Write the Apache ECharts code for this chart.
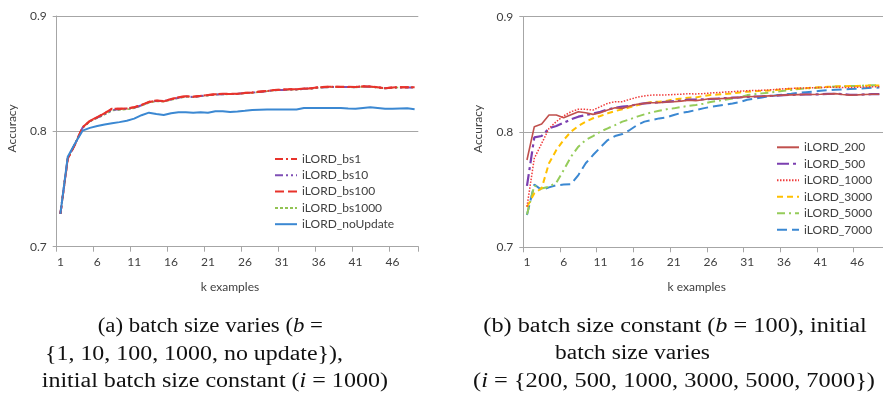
<!DOCTYPE html>
<html>
<head>
<meta charset="utf-8">
<script src="https://cdn.jsdelivr.net/npm/echarts@6/dist/echarts.min.js"></script>
<style>
html,body{margin:0;padding:0;background:#fff;}
#chart{width:883px;height:396px;}
</style>
</head>
<body>
<div id="chart"></div>
<script>
const categories = ['1','2','3','4','5','6','7','8','9','10','11','12','13','14','15','16','17','18','19','20','21','22','23','24','25','26','27','28','29','30','31','32','33','34','35','36','37','38','39','40','41','42','43','44','45','46','47','48','49'];
const yTicks = [0.7, 0.8, 0.9];

// Panel (a)
const bs1 = [0.7284,0.7766,0.789,0.8035,0.809,0.8122,0.8157,0.8195,0.8195,0.8198,0.8208,0.8228,0.8254,0.8266,0.826,0.8278,0.8295,0.8304,0.830,0.8307,0.8315,0.8321,0.8324,0.8324,0.8324,0.8333,0.8336,0.8344,0.835,0.8358,0.836,0.8364,0.8364,0.837,0.8373,0.8382,0.8385,0.8387,0.8385,0.8385,0.8384,0.839,0.8388,0.8382,0.8373,0.838,0.8382,0.8382,0.8382];
const bs10 = [0.7284,0.7768,0.7892,0.8032,0.8088,0.812,0.815,0.8185,0.8192,0.8196,0.8205,0.8226,0.8252,0.8264,0.8262,0.8276,0.8292,0.8302,0.8298,0.8306,0.8313,0.832,0.8322,0.8324,0.8325,0.8332,0.8335,0.8342,0.8349,0.8356,0.8359,0.8362,0.8363,0.8369,0.8372,0.838,0.8383,0.8385,0.8384,0.8384,0.8383,0.8388,0.8387,0.8381,0.8374,0.8379,0.8381,0.8381,0.8381];
const bs100 = [0.7284,0.7762,0.7888,0.8036,0.8092,0.8124,0.8158,0.8197,0.8196,0.8199,0.821,0.823,0.8256,0.8268,0.8262,0.828,0.8296,0.8305,0.8301,0.8308,0.8316,0.8322,0.8325,0.8325,0.8325,0.8334,0.8337,0.8345,0.8351,0.8358,0.8361,0.8365,0.8365,0.8371,0.8374,0.8383,0.8386,0.8388,0.8386,0.8386,0.8385,0.8391,0.8389,0.8383,0.8374,0.8381,0.8383,0.8383,0.8383];
const bs1000 = [0.7284,0.777,0.7895,0.803,0.8085,0.8115,0.8145,0.818,0.8185,0.819,0.82,0.8222,0.8248,0.826,0.8258,0.8272,0.8288,0.8298,0.8296,0.8304,0.831,0.8318,0.832,0.8322,0.8322,0.833,0.8333,0.834,0.8347,0.8355,0.8357,0.836,0.8361,0.8367,0.837,0.8378,0.8381,0.8383,0.8382,0.8382,0.8381,0.8386,0.8385,0.838,0.8372,0.8378,0.838,0.838,0.838];
const noUpdate = [0.7284,0.778,0.7896,0.8006,0.803,0.8046,0.806,0.807,0.808,0.8092,0.811,0.814,0.8162,0.815,0.8142,0.8157,0.8165,0.8165,0.8162,0.8165,0.8162,0.8174,0.8175,0.8168,0.8172,0.8178,0.8185,0.8188,0.819,0.819,0.819,0.819,0.819,0.8202,0.8202,0.8202,0.8202,0.8202,0.8202,0.8198,0.8196,0.8202,0.8208,0.8202,0.8196,0.8196,0.8198,0.82,0.8192];

// Panel (b)
const i200 = [0.7757,0.8046,0.807,0.8148,0.8148,0.8124,0.815,0.8176,0.8167,0.8153,0.8167,0.819,0.821,0.8205,0.8225,0.824,0.8248,0.8254,0.8254,0.826,0.8263,0.8268,0.8275,0.8272,0.828,0.829,0.8288,0.8292,0.8297,0.830,0.8306,0.8308,0.831,0.8313,0.8316,0.832,0.8322,0.8324,0.8325,0.8325,0.8327,0.833,0.8333,0.8325,0.832,0.8322,0.8325,0.8327,0.8327];
const i500 = [0.7532,0.7954,0.7965,0.8032,0.8052,0.808,0.811,0.8133,0.8147,0.816,0.8175,0.8195,0.821,0.822,0.8225,0.824,0.8248,0.8254,0.8256,0.8262,0.8268,0.8272,0.828,0.8282,0.8284,0.8286,0.829,0.8294,0.8298,0.830,0.8304,0.8307,0.831,0.8313,0.8316,0.832,0.8322,0.8324,0.8326,0.8327,0.8327,0.833,0.8332,0.8328,0.8322,0.8323,0.8326,0.8328,0.8328];
const i1000 = [0.7352,0.7772,0.790,0.8032,0.809,0.8139,0.8176,0.8197,0.8197,0.819,0.822,0.8249,0.8263,0.8263,0.8283,0.8301,0.8313,0.832,0.832,0.8322,0.8325,0.8328,0.8332,0.833,0.8333,0.8338,0.8342,0.8346,0.835,0.8354,0.8358,0.836,0.8362,0.8365,0.837,0.8375,0.8378,0.838,0.8382,0.8384,0.8386,0.8388,0.8388,0.8386,0.8386,0.8388,0.839,0.8392,0.8393];
const i3000 = [0.735,0.7468,0.7512,0.7729,0.7844,0.7931,0.8003,0.8052,0.8089,0.8119,0.8139,0.8162,0.8182,0.8197,0.8214,0.8232,0.8249,0.826,0.8263,0.827,0.8283,0.829,0.8298,0.830,0.8312,0.832,0.8325,0.833,0.8336,0.8343,0.835,0.8354,0.8357,0.836,0.8365,0.837,0.8375,0.8378,0.838,0.8384,0.8388,0.8392,0.8395,0.8396,0.8398,0.8399,0.8402,0.8404,0.8404];
const i5000 = [0.7285,0.7535,0.751,0.7525,0.756,0.767,0.7786,0.7873,0.793,0.7965,0.8003,0.8032,0.806,0.809,0.811,0.8133,0.8153,0.817,0.8185,0.8197,0.8205,0.8217,0.8226,0.8235,0.8245,0.826,0.827,0.828,0.829,0.8302,0.832,0.8328,0.8335,0.8342,0.835,0.8358,0.8365,0.8372,0.8378,0.8382,0.8386,0.839,0.8394,0.8396,0.8398,0.84,0.8403,0.8405,0.8405];
const i7000 = [0.728,0.7545,0.7497,0.752,0.7538,0.7544,0.7547,0.7627,0.7729,0.780,0.7867,0.793,0.7965,0.7982,0.8017,0.806,0.809,0.8104,0.8118,0.8127,0.8147,0.8165,0.8176,0.819,0.8205,0.8218,0.8228,0.8238,0.8248,0.826,0.828,0.829,0.830,0.831,0.8318,0.8325,0.8332,0.834,0.8345,0.835,0.8358,0.8362,0.8366,0.837,0.8373,0.8376,0.838,0.8383,0.8385];

const AX = '#a6a6a6';
const TXT = '#404040';
const SANS = 'Lato, "Open Sans", sans-serif';
const SERIF = '"Liberation Serif", "DejaVu Serif", serif';

function mkX(gi) {
  return {
    type: 'category', gridIndex: gi, data: categories, boundaryGap: true,
    axisLine: {show: true, lineStyle: {color: AX, width: 1}},
    axisTick: {show: true, interval: 4, length: 5, lineStyle: {color: AX}},
    axisLabel: {interval: 4, fontSize: 12, color: TXT, fontFamily: SANS, margin: 9},
    splitLine: {show: false}
  };
}
function mkY(gi) {
  return {
    type: 'value', gridIndex: gi, min: yTicks[0], max: yTicks[yTicks.length - 1], interval: 0.1,
    axisLine: {show: true, lineStyle: {color: AX, width: 1}},
    axisTick: {show: true, length: 4, lineStyle: {color: AX}},
    axisLabel: {fontSize: 12, color: TXT, fontFamily: SANS, margin: 10, formatter: v => v.toFixed(1)},
    splitLine: {show: true, lineStyle: {color: AX, width: 1}}
  };
}
function ln(name, data, gi, color, type, width) {
  return {
    type: 'line', name, data, xAxisIndex: gi, yAxisIndex: gi,
    symbol: 'none', showSymbol: false, smooth: false,
    lineStyle: {color, width: width || 2, type: type || 'solid', cap: 'butt'},
    itemStyle: {color},
    emphasis: {disabled: true}
  };
}

const series = [
  ln('iLORD_bs1000', bs1000, 0, '#92c353', [3, 2], 1.6),
  ln('iLORD_bs10', bs10, 0, '#7f4fb5', [8, 3, 2, 3, 2, 3], 2),
  ln('iLORD_bs100', bs100, 0, '#e8332b', [9, 4], 2),
  ln('iLORD_bs1', bs1, 0, '#e8332b', [8, 3, 2, 3], 2),
  ln('iLORD_noUpdate', noUpdate, 0, '#3b88d2', 'solid', 2),
  ln('iLORD_7000', i7000, 1, '#3b88d2', [10, 5], 2),
  ln('iLORD_5000', i5000, 1, '#95cc5a', [8, 4, 2, 4], 2),
  ln('iLORD_3000', i3000, 1, '#ffc000', [6, 4], 2),
  ln('iLORD_500', i500, 1, '#7b3fb0', [12, 4, 3, 4], 2.2),
  ln('iLORD_200', i200, 1, '#c0504d', 'solid', 1.6),
  ln('iLORD_1000', i1000, 1, '#f03c3c', [1.5, 1.5], 1.5)
];

function legend(names, left, top, gap) {
  return {
    data: names, orient: 'vertical', left, top, itemWidth: 22, itemHeight: 14, itemGap: gap,
    selectedMode: false,
    itemStyle: {opacity: 0},
    textStyle: {fontSize: 12, color: TXT, fontFamily: SANS}
  };
}

// caption helpers: fit each line to its width in the reference
function measure(str, font) {
  const c = document.createElement('canvas').getContext('2d');
  c.font = font;
  return c.measureText(str).width;
}
const CAP_SIZE = 20;
function capLine(parts, left, right, cy) {
  const fontN = CAP_SIZE + 'px ' + SERIF;
  const fontI = 'italic ' + CAP_SIZE + 'px ' + SERIF;
  let w = 0, txt = '';
  parts.forEach(p => { w += measure(p[0], p[1] ? fontI : fontN); txt += p[1] ? '{it|' + p[0] + '}' : p[0]; });
  return {
    type: 'text', x: left, y: cy, scaleX: (right - left) / w, silent: true,
    style: {
      text: txt, fontFamily: SERIF, fontSize: CAP_SIZE, fill: '#111',
      textAlign: 'left', textVerticalAlign: 'middle',
      rich: {it: {fontStyle: 'italic', fontFamily: SERIF, fontSize: CAP_SIZE, fill: '#111'}}
    }
  };
}

const graphic = [
  {type: 'text', x: 230, y: 287, silent: true, style: {text: 'k examples', fontSize: 12, fontFamily: SANS, fill: TXT, textAlign: 'center', textVerticalAlign: 'middle'}},
  {type: 'text', x: 696.7, y: 287, silent: true, style: {text: 'k examples', fontSize: 12, fontFamily: SANS, fill: TXT, textAlign: 'center', textVerticalAlign: 'middle'}},
  {type: 'text', x: 11.7, y: 128.3, rotation: Math.PI / 2, silent: true, style: {text: 'Accuracy', fontSize: 12, fontFamily: SANS, fill: TXT, textAlign: 'center', textVerticalAlign: 'middle'}},
  {type: 'text', x: 478.3, y: 129, rotation: Math.PI / 2, silent: true, style: {text: 'Accuracy', fontSize: 12, fontFamily: SANS, fill: TXT, textAlign: 'center', textVerticalAlign: 'middle'}},
  capLine([['(a) batch size varies ('], ['b', true], [' =']], 97.7, 323, 327),
  capLine([['{1, 10, 100, 1000, no update}),']], 45, 343, 355),
  capLine([['initial batch size constant ('], ['i', true], [' = 1000)']], 41.7, 388, 382),
  capLine([['(b) batch size constant ('], ['b', true], [' = 100), initial']], 483.3, 866.7, 327),
  capLine([['batch size varies']], 555, 710, 354),
  capLine([['('], ['i', true], [' = {200, 500, 1000, 3000, 5000, 7000})']], 473, 875, 382)
];

const chart = echarts.init(document.getElementById('chart'), null, {renderer: 'canvas'});
chart.setOption({
  backgroundColor: '#ffffff',
  animation: false,
  grid: [
    {left: 56.7, top: 16, width: 361.6, height: 230.7},
    {left: 523.3, top: 16.7, width: 362.1, height: 230.6}
  ],
  xAxis: [mkX(0), mkX(1)],
  yAxis: [mkY(0), mkY(1)],
  legend: [
    legend(['iLORD_bs1', 'iLORD_bs10', 'iLORD_bs100', 'iLORD_bs1000', 'iLORD_noUpdate'], 269, 148, 4.3),
    legend(['iLORD_200', 'iLORD_500', 'iLORD_1000', 'iLORD_3000', 'iLORD_5000', 'iLORD_7000'], 771, 136.3, 4.5)
  ],
  series,
  graphic
});
</script>
</body>
</html>
